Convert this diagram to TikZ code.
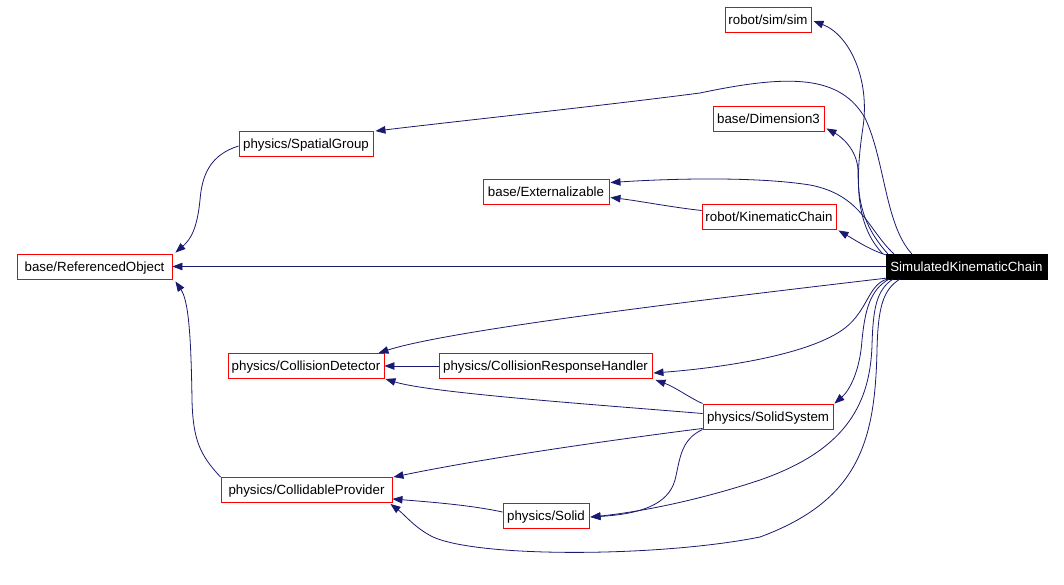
\documentclass[tikz,border=0pt]{standalone}
\usepackage{fontspec}
\setmainfont{Liberation Sans}
\usetikzlibrary{arrows.meta,calc}
\definecolor{edgecol}{RGB}{25,25,112}
\begin{document}
\begin{tikzpicture}[x=1pt,y=-1pt,
  box/.style={draw=red, line width=0.9pt, fill=white, inner sep=0pt, minimum height=25pt,
     text height=11.5pt, text depth=2pt,
     font=\fontsize{13.3}{16}\selectfont, text=black},
  mainbox/.style={fill=black, draw=black, inner sep=0pt, minimum height=25pt,
     text height=11.5pt, text depth=2pt,
     font=\fontsize{13.3}{16}\selectfont, text=white},
  arr/.style={draw=edgecol, line width=0.8pt, -{Triangle[length=10pt,width=7.5pt]}, fill=none}]
\useasboundingbox[fill=white] (0,0) rectangle (1064,584);

% nodes
\node[box, minimum width=86pt]  (sim)     at (768,19.5)  {robot/sim/sim};
\node[box, minimum width=134pt] (spatial) at (306,144)   {physics/SpatialGroup};
\node[box, minimum width=111pt] (dim3)    at (768.5,118.5) {base/Dimension3};
\node[box, minimum width=126pt] (ext)     at (546,191.5) {base/Externalizable};
\node[box, minimum width=134pt] (kin)     at (769,216.5) {robot/KinematicChain};
\node[box, minimum width=155pt] (refobj)  at (94.5,266.5) {base/ReferencedObject};
\node[mainbox, minimum width=161pt] (skc) at (966.5,266.5) {SimulatedKinematicChain};
\node[box, minimum width=156pt] (cd)      at (306,366)   {physics/CollisionDetector};
\node[box, minimum width=213pt] (crh)     at (545.5,366) {physics/CollisionResponseHandler};
\node[box, minimum width=130pt] (ss)      at (768,416.5) {physics/SolidSystem};
\node[box, minimum width=171pt] (cp)      at (306.5,490) {physics/CollidableProvider};
\node[box, minimum width=86pt]  (solid)   at (546,515.5) {physics/Solid};

% edges from SimulatedKinematicChain
\draw[arr] ($(skc.north west)+(-3,0)$) .. controls (855,225) and (855,180) .. (863,127)
  .. controls (870,80) and (850,35) .. ($(sim.east)+(2,1.5)$);
\draw[arr] ($(skc.north west)+(26,0)$) .. controls (885,225) and (885,160) .. (865,118)
  .. controls (840,75) and (790,74) .. (700,93)
  .. controls (600,106) and (450,122) .. ($(spatial.north east)+(2,0)$);
\draw[arr] ($(skc.north west)+(2,0)$) .. controls (862,225) and (858,200) .. (858,170)
  .. controls (857,150) and (842,137) .. ($(dim3.south east)+(2,-3)$);
\draw[arr] ($(skc.north west)+(8,0)$) .. controls (868,230) and (862,195) .. (810,185)
  .. controls (760,177) and (680,178) .. ($(ext.north east)+(1,4)$);
\draw[arr] ($(skc.north west)+(0,1)$) .. controls (870,250) and (855,240) .. ($(kin.south east)+(2,1)$);
\draw[arr] (skc.west) -- (refobj.east);
\draw[arr] ($(skc.south west)+(0,-1)$) .. controls (700,300) and (450,330) .. ($(cd.north east)+(-6,0)$);
\draw[arr] ($(skc.south west)+(1,0)$) .. controls (868,285) and (868,310) .. (845,328)
  .. controls (810,355) and (720,368) .. ($(crh.east)+(1,7)$);
\draw[arr] ($(skc.south west)+(3,0)$) .. controls (870,290) and (865,310) .. (862,340)
  .. controls (860,370) and (850,390) .. ($(ss.north east)+(1,0)$);
\draw[arr] ($(skc.south west)+(7,0)$) .. controls (876,290) and (873,310) .. (872,345)
  .. controls (870,410) and (840,452) .. (760,480)
  .. controls (700,500) and (640,512) .. ($(solid.east)+(1,1.5)$);
\draw[arr] ($(skc.south west)+(14,0)$) .. controls (882,290) and (878,310) .. (877,350)
  .. controls (875,440) and (860,500) .. (760,537)
  .. controls (660,557) and (480,558) .. (433,537)
  .. controls (415,528) and (405,515) .. ($(cp.south east)+(-2,1)$);

% other edges
\draw[arr] ($(spatial.west)+(0,2)$) .. controls (210,155) and (202,175) .. (200,200)
  .. controls (197,230) and (190,240) .. ($(refobj.north east)+(3,-1)$);
\draw[arr] (cp.north west) .. controls (200,455) and (193,440) .. (192,400)
  .. controls (191,330) and (188,300) .. ($(refobj.south east)+(3,2)$);
\draw[arr] ($(kin.west)+(0,-6)$) .. controls (670,207) and (640,201) .. ($(ext.east)+(1,6)$);
\draw[arr] (crh.west) -- (cd.east);
\draw[arr] ($(ss.west)+(0,-3)$) .. controls (600,405) and (430,393) .. ($(cd.south east)+(1,0)$);
\draw[arr] (ss.north west) .. controls (690,398) and (675,387) .. ($(crh.south east)+(3,1)$);
\draw[arr] ($(ss.south west)+(0,-1)$) .. controls (650,435) and (500,455) .. ($(cp.north east)+(1,0)$);
\draw[arr] (ss.south west) .. controls (680,440) and (680,460) .. (675,480)
  .. controls (668,505) and (640,514) .. ($(solid.east)+(1,1.5)$);
\draw[arr] ($(solid.west)+(0,-3.5)$) .. controls (470,505) and (430,502) .. ($(cp.south east)+(0,-4)$);
\end{tikzpicture}
\end{document}
